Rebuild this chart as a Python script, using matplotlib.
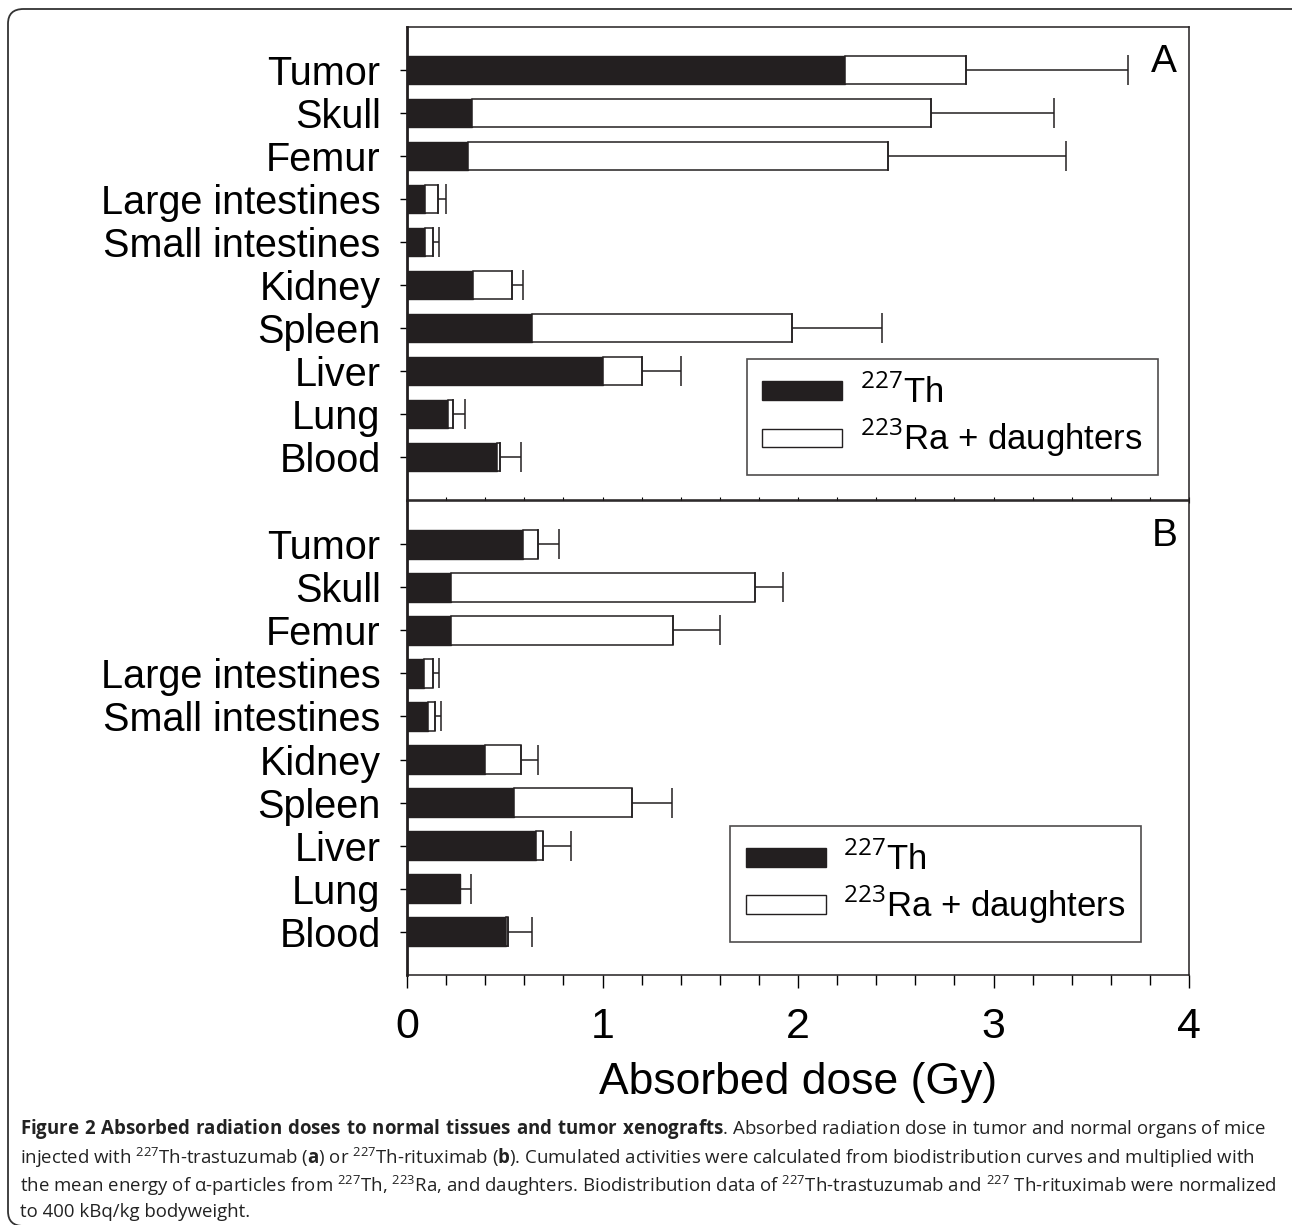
import numpy as np
import matplotlib
matplotlib.use("Agg")
import matplotlib.pyplot as plt
from matplotlib.patches import Patch, FancyBboxPatch
from matplotlib.ticker import MultipleLocator

plt.rcParams['font.family'] = ['Liberation Sans', 'DejaVu Sans']
plt.rcParams['mathtext.fontset'] = 'custom'
plt.rcParams['mathtext.rm'] = 'Open Sans'
plt.rcParams['mathtext.bf'] = 'Open Sans:bold'

organs = ["Tumor", "Skull", "Femur", "Large intestines", "Small intestines",
          "Kidney", "Spleen", "Liver", "Lung", "Blood"]

# panel A: 227Th-trastuzumab
th_a = [2.24, 0.33, 0.31, 0.09, 0.09, 0.34, 0.64, 1.00, 0.21, 0.46]
ra_a = [0.62, 2.35, 2.15, 0.07, 0.045, 0.195, 1.33, 0.20, 0.027, 0.018]
err_a = [0.83, 0.63, 0.91, 0.037, 0.031, 0.058, 0.46, 0.20, 0.06, 0.106]

# panel B: 227Th-rituximab
th_b = [0.595, 0.227, 0.223, 0.086, 0.109, 0.397, 0.547, 0.660, 0.272, 0.507]
ra_b = [0.073, 1.553, 1.137, 0.049, 0.036, 0.186, 0.605, 0.034, 0.0, 0.012]
err_b = [0.109, 0.145, 0.24, 0.031, 0.031, 0.085, 0.204, 0.144, 0.053, 0.121]

dark = '#231f20'
W, H = 1292, 1225
fig = plt.figure(figsize=(W / 100, H / 100), dpi=100)

ax_a = fig.add_axes([407 / W, 1 - 500 / H, 782 / W, 473 / H])
ax_b = fig.add_axes([407 / W, 1 - 975 / H, 782 / W, 474 / H])

panels = [(ax_a, th_a, ra_a, err_a, "A", 0.960, 0.053),
          (ax_b, th_b, ra_b, err_b, "B", 0.9386, 0.070)]

for ax, th, ra, err, letter, lx, ly in panels:
    y = np.arange(len(organs))
    th = np.array(th)
    ra = np.array(ra)
    ax.barh(y, th, height=0.67, color=dark, edgecolor=dark, linewidth=1.0)
    ax.barh(y, ra, left=th, height=0.67, color='white', edgecolor=dark, linewidth=1.1)
    total = th + ra
    ax.errorbar(total, y, xerr=[np.zeros(len(err)), err], fmt='none',
                ecolor=dark, elinewidth=1.1, capsize=11, capthick=1.1)
    ax.set_xlim(0, 4)
    ax.set_ylim(10, -1)
    ax.set_yticks(y)
    ax.set_yticklabels(organs, fontsize=28.5)
    ax.tick_params(axis='y', direction='out', length=5, width=1, pad=14)
    for s in ax.spines.values():
        s.set_linewidth(1.1)
        s.set_color(dark)
    ax.spines['left'].set_linewidth(2)
    ax.text(0.985, 0.965, letter, transform=ax.transAxes, ha='right', va='top',
            fontsize=28)
    handles = [Patch(facecolor=dark, edgecolor=dark, label="$^{227}$Th"),
               Patch(facecolor='white', edgecolor=dark, label="$^{223}$Ra + daughters")]
    leg = ax.legend(handles=handles, loc='lower right', bbox_to_anchor=(lx, ly),
                    fontsize=25, frameon=True, fancybox=False, edgecolor=dark,
                    handlelength=2.3, handleheight=0.45, handletextpad=0.5,
                    borderpad=0.45, labelspacing=0.2, borderaxespad=0)
    leg.get_frame().set_linewidth(1.2)

ax_a.xaxis.set_major_locator(MultipleLocator(0.2))
ax_a.tick_params(axis='x', direction='inout', length=4, labelbottom=False)

ax_b.xaxis.set_major_locator(MultipleLocator(1))
ax_b.xaxis.set_minor_locator(MultipleLocator(0.2))
ax_b.tick_params(axis='x', which='major', direction='out', length=9, width=1,
                 labelsize=31, pad=14)
ax_b.tick_params(axis='x', which='minor', direction='out', length=7, width=1)
ax_b.set_xlabel("Absorbed dose (Gy)", fontsize=32, labelpad=11)

# caption
cap_lines = [
    r"$\mathbf{Figure\ 2\ Absorbed\ radiation\ doses\ to\ normal\ tissues\ and\ tumor\ xenografts}$. Absorbed radiation dose in tumor and normal organs of mice",
    r"injected with $^{227}$Th-trastuzumab ($\mathbf{a}$) or $^{227}$Th-rituximab ($\mathbf{b}$). Cumulated activities were calculated from biodistribution curves and multiplied with",
    r"the mean energy of α-particles from $^{227}$Th, $^{223}$Ra, and daughters. Biodistribution data of $^{227}$Th-trastuzumab and $^{227}$ Th-rituximab were normalized",
    r"to 400 kBq/kg bodyweight.",
]
cap_y = [1129, 1158, 1186, 1212]
for txt, yy in zip(cap_lines, cap_y):
    fig.text(20 / W, 1 - yy / H, txt, fontsize=13.4, family='Open Sans',
             ha='left', va='center', color='#222222')

frame = FancyBboxPatch((8 / W, -1 / H), 1.05, 1 - 8 / H,
                       boxstyle="round,pad=0,rounding_size=0.012",
                       transform=fig.transFigure, facecolor='none',
                       edgecolor='#333333', linewidth=1.3, clip_on=False)
fig.patches.append(frame)

fig.savefig("out.png", dpi=100)
